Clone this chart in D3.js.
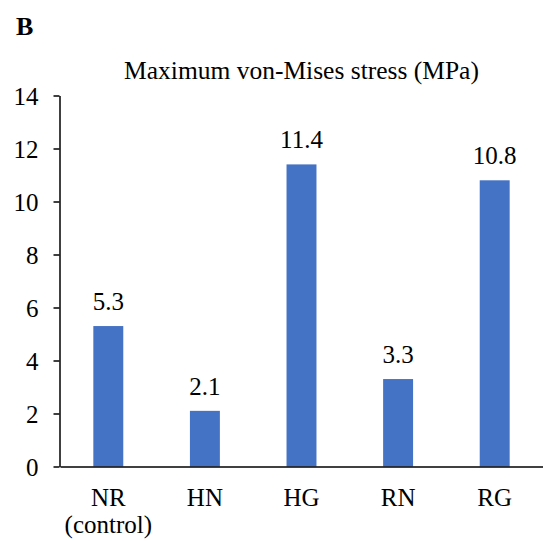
<!DOCTYPE html>
<html>
<head>
<meta charset="utf-8">
<script src="https://cdn.jsdelivr.net/npm/d3@7"></script>
<style>
  body { margin: 0; background: #fff; }
  svg text { font-family: "Liberation Serif", "Times New Roman", serif; fill: #000; }
</style>
</head>
<body>
<svg id="chart"></svg>
<script>
// chart data
var categories = ["NR|(control)", "HN", "HG", "RN", "RG"];
var values = [5.3, 2.1, 11.4, 3.3, 10.8];
var yTicks = [0, 2, 4, 6, 8, 10, 12, 14];

var width = 543, height = 541;
var margin = {top: 95.5, right: 0, bottom: 74.5, left: 60};
var serif = "'Liberation Serif', 'Times New Roman', serif";

const svg = d3.select("#chart").attr("width", width).attr("height", height);

// scales
const x = d3.scaleBand()
  .domain(categories)
  .range([margin.left, width - margin.right])
  .padding(0);

const y = d3.scaleLinear()
  .domain([0, 14])
  .range([height - margin.bottom, margin.top]);

var barW = x.bandwidth() * 0.31;

// panel letter
svg.append("text")
  .attr("x", 16).attr("y", 35)
  .style("font-family", serif)
  .style("font-size", "26px").style("font-weight", "bold")
  .text("B");

// title
svg.append("text")
  .attr("x", 301.5).attr("y", 79)
  .attr("text-anchor", "middle")
  .style("font-family", serif)
  .style("font-size", "25.5px")
  .text("Maximum von-Mises stress (MPa)");

// bars
svg.append("g")
  .selectAll("rect")
  .data(values)
  .join("rect")
    .attr("x", (d, i) => x(categories[i]) + x.bandwidth() / 2 - barW / 2)
    .attr("y", d => y(d))
    .attr("width", barW)
    .attr("height", d => y(0) - y(d))
    .attr("fill", "#4472C4");

// value labels
svg.append("g")
  .selectAll("text")
  .data(values)
  .join("text")
    .attr("x", (d, i) => x(categories[i]) + x.bandwidth() / 2)
    .attr("y", d => y(d) - 16)
    .attr("text-anchor", "middle")
    .style("font-family", serif)
    .style("font-size", "25px")
    .text(d => d.toFixed(1));

// y axis
const yAxis = svg.append("g")
  .attr("transform", "translate(" + (margin.left - 0.5) + ",0)")
  .call(d3.axisLeft(y).tickValues(yTicks).tickSize(6).tickPadding(15).tickSizeOuter(0));
yAxis.select(".domain").attr("stroke", "#000").attr("stroke-width", 1.5);
yAxis.selectAll(".tick line").attr("stroke", "#000").attr("stroke-width", 1.5);
yAxis.selectAll(".tick text")
  .style("font-size", "25px")
  .style("font-family", serif)
  .attr("dy", "0.34em");

// x axis
const xAxis = svg.append("g")
  .attr("transform", "translate(0," + y(0) + ")")
  .call(d3.axisBottom(x).tickSize(0).tickSizeOuter(0).tickFormat(""));
xAxis.select(".domain").attr("stroke", "#000").attr("stroke-width", 1.5);

// category labels (may be two lines)
xAxis.selectAll(".tick").each(function(d) {
  var t = d3.select(this).append("text")
    .attr("text-anchor", "middle")
    .attr("fill", "#000")
    .style("font-size", "25px")
    .style("font-family", serif);
  d.split("|").forEach(function(s, k) {
    t.append("tspan").attr("x", 0).attr("y", 39 + k * 27).text(s);
  });
});
</script>
</body>
</html>
